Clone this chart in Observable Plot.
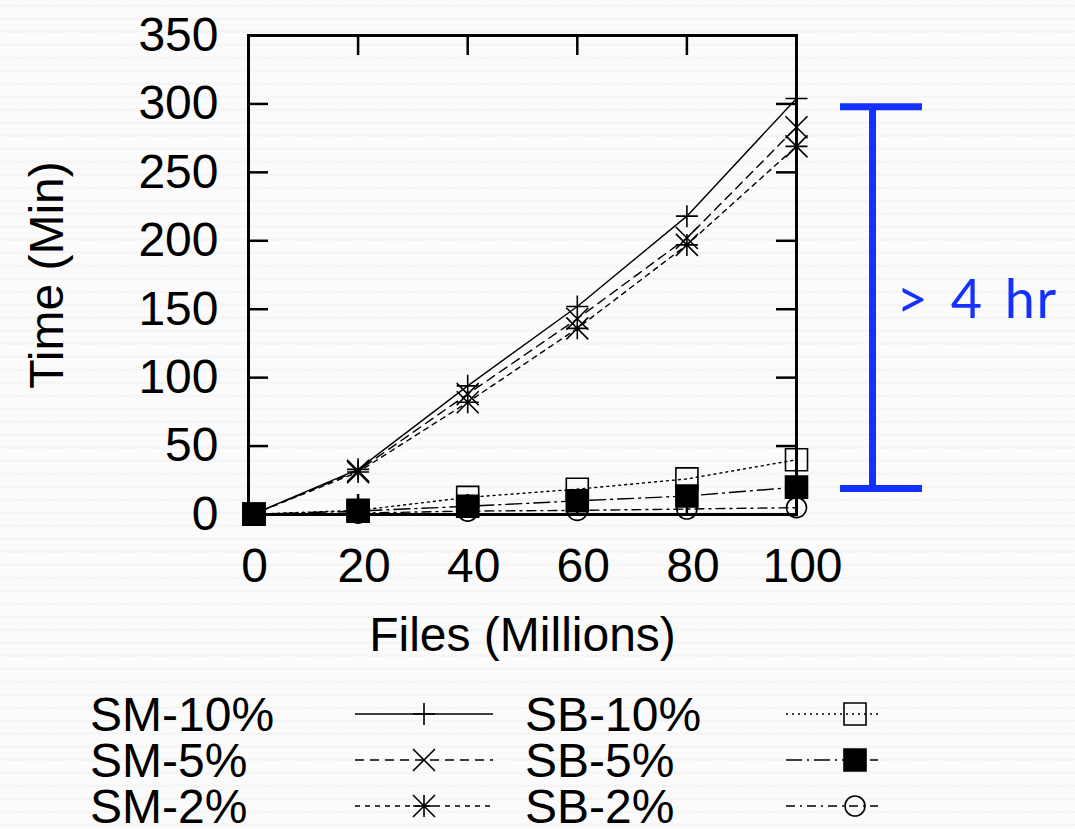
<!DOCTYPE html>
<html><head><meta charset="utf-8">
<script src="https://cdn.jsdelivr.net/npm/d3@7"></script>
<script src="https://cdn.jsdelivr.net/npm/@observablehq/plot@0.6"></script>
<style>
html,body{margin:0;padding:0;width:1075px;height:829px;overflow:hidden;
background-color:#fbfbfb;
background-image:url("data:image/svg+xml;utf8,<svg xmlns='http://www.w3.org/2000/svg' width='9' height='13'><path d='M0 7 L2.25 4.5 L4.5 7 L6.75 4.5 L9 7' fill='none' stroke='%23ededed' stroke-width='1'/></svg>");}
#chart svg,#legend svg{display:block}
</style></head><body>
<div id="chart"></div><div id="legend"></div>
<script>
// ---- data ----
const files = [1, 20, 40, 60, 80, 100];
const sm10 = [0.5, 33, 94, 152, 218, 304];
const sm5  = [0.5, 32, 88, 143, 202, 283];
const sm2  = [0.5, 31, 82, 136, 197, 269];
const sb10 = [0.3, 3, 12.5, 18.5, 26, 40];
const sb5  = [0.2, 2.5, 6, 10, 13.5, 20];
const sb2  = [0.1, 1, 2.5, 3, 4, 5];
const seriesNames = ["SM-10%", "SM-5%", "SM-2%", "SB-10%", "SB-5%", "SB-2%"];
const seriesValues = [sm10, sm5, sm2, sb10, sb5, sb2];
const xTicks = [0, 20, 40, 60, 80, 100];
const yTicks = [0, 50, 100, 150, 200, 250, 300, 350];
const bracketSpan = [19, 298];
const bracketLabel = "> 4 hr";
const xLabel = "Files (Millions)";
const yLabel = "Time (Min)";

// ---- symbols ----
const rad = s => Math.sqrt(s / Math.PI);
const plusSym = {draw(c, s){const r = rad(s); c.moveTo(-r,0); c.lineTo(r,0); c.moveTo(0,-r); c.lineTo(0,r);}};
const timesSym = {draw(c, s){const r = rad(s); c.moveTo(-r,-r); c.lineTo(r,r); c.moveTo(-r,r); c.lineTo(r,-r);}};
const starSym = {draw(c, s){const r = rad(s); c.moveTo(-r,0); c.lineTo(r,0); c.moveTo(0,-r); c.lineTo(0,r); c.moveTo(-r,-r); c.lineTo(r,r); c.moveTo(-r,r); c.lineTo(r,-r);}};
const squareSym = {draw(c, s){const r = rad(s); c.rect(-r,-r,2*r,2*r);}};
const circleSym = {draw(c, s){const r = rad(s); c.moveTo(r,0); c.arc(0,0,r,0,2*Math.PI); c.closePath();}};

const styles = {
  "SM-10%": {dash: null, symbol: plusSym, fill: "none", r: 11},
  "SM-5%": {dash: "9,6", symbol: timesSym, fill: "none", r: 11},
  "SM-2%": {dash: "5,5", symbol: starSym, fill: "none", r: 11},
  "SB-10%": {dash: "2,4", symbol: squareSym, fill: "none", r: 11},
  "SB-5%": {dash: "16,5,2,5", symbol: squareSym, fill: "black", r: 11},
  "SB-2%": {dash: "9,5,2,5", symbol: circleSym, fill: "none", r: 10}
};

const rows = seriesNames.flatMap((name, i) => files.map((f, j) => ({series: name, files: f, time: seriesValues[i][j]})));

const W = 1075, H = 685, mL = 248, mR = 279, mT = 35, mB = 171;
const fw = W - mL - mR, fh = H - mT - mB, tl = 20;
const blue = "#1432ff";
const font = "'Liberation Sans', Arial, Helvetica, sans-serif";

const marks = [
  Plot.frame({stroke: "black", strokeWidth: 3}),
  Plot.tickY(yTicks, {y: d => d, insetRight: fw - tl, stroke: "black", strokeWidth: 2.5}),
  Plot.tickY(yTicks, {y: d => d, insetLeft: fw - tl, stroke: "black", strokeWidth: 2.5}),
  Plot.tickX(xTicks, {x: d => d, insetTop: fh - tl, stroke: "black", strokeWidth: 2.5}),
  Plot.tickX(xTicks, {x: d => d, insetBottom: fh - tl, stroke: "black", strokeWidth: 2.5}),
  Plot.axisX(xTicks, {tickSize: 0, tickPadding: 33, fontSize: 48, dx: 6, label: null, fill: "black"}),
  Plot.axisY(yTicks, {anchor: "left", tickSize: 0, tickPadding: 30, fontSize: 48, label: null, fill: "black"}),
  Plot.text([xLabel], {frameAnchor: "bottom", dy: 121, lineAnchor: "middle", fontSize: 48, fill: "black"}),
  Plot.text([yLabel], {frameAnchor: "left", dx: -201, rotate: -90, textAnchor: "middle", lineAnchor: "middle", fontSize: 48, fill: "black"})
];
for (const name of seriesNames) {
  const st = styles[name];
  const d = rows.filter(r => r.series === name);
  marks.push(Plot.line(d, {x: "files", y: "time", stroke: "black", strokeWidth: 1.4, strokeDasharray: st.dash}));
}
for (const name of seriesNames) {
  const st = styles[name];
  const d = rows.filter(r => r.series === name);
  marks.push(Plot.dot(d, {x: "files", y: "time", symbol: st.symbol, r: st.r, fill: st.fill, stroke: "black", strokeWidth: 1.6}));
}
// annotation bracket
marks.push(
  Plot.ruleX([bracketSpan], {x: () => files[files.length - 1], y1: d => d[0], y2: d => d[1], dx: 76, stroke: blue, strokeWidth: 7}),
  Plot.tickY(bracketSpan, {y: d => d, insetLeft: 592, insetRight: -126, stroke: blue, strokeWidth: 7}),
  Plot.text([bracketLabel], {frameAnchor: "right", dx: 100, dy: 26, textAnchor: "start", fill: blue, fontSize: 54, fontFamily: "Lato, 'Open Sans', sans-serif"})
);

const chart = Plot.plot({
  width: W, height: H,
  marginLeft: mL, marginRight: mR, marginTop: mT, marginBottom: mB,
  x: {domain: [0, 100]},
  y: {domain: [0, 350]},
  style: {background: "transparent", fontFamily: font, color: "black", overflow: "visible"},
  marks
});
document.getElementById("chart").appendChild(chart);
d3.select(chart).selectAll("text").filter(function(){ return this.textContent === bracketLabel; })
  .style("letter-spacing", "1.5px").style("word-spacing", "6px");

// ---- legend ----
const lg = d3.select("#legend").append("svg").attr("width", W).attr("height", 829 - H).style("overflow", "visible");
const colText = [90, 525], colLine = [[355, 493], [786, 878]], colMark = [424, 855], rowY = [29, 75, 121];
seriesNames.forEach((name, i) => {
  const col = i < 3 ? 0 : 1, row = i % 3, st = styles[name];
  const y = rowY[row];
  lg.append("text").attr("x", colText[col]).attr("y", y).attr("dy", "0.35em")
    .attr("font-family", font).attr("font-size", 48).attr("fill", "black").text(name);
  lg.append("line").attr("x1", colLine[col][0]).attr("x2", colLine[col][1]).attr("y1", y).attr("y2", y)
    .attr("stroke", "black").attr("stroke-width", 1.4).attr("stroke-dasharray", st.dash);
  lg.append("path").attr("transform", `translate(${colMark[col]},${y})`)
    .attr("d", d3.symbol(st.symbol, st.r * st.r * Math.PI)())
    .attr("fill", st.fill).attr("stroke", "black").attr("stroke-width", 1.6);
});
</script>
</body></html>
